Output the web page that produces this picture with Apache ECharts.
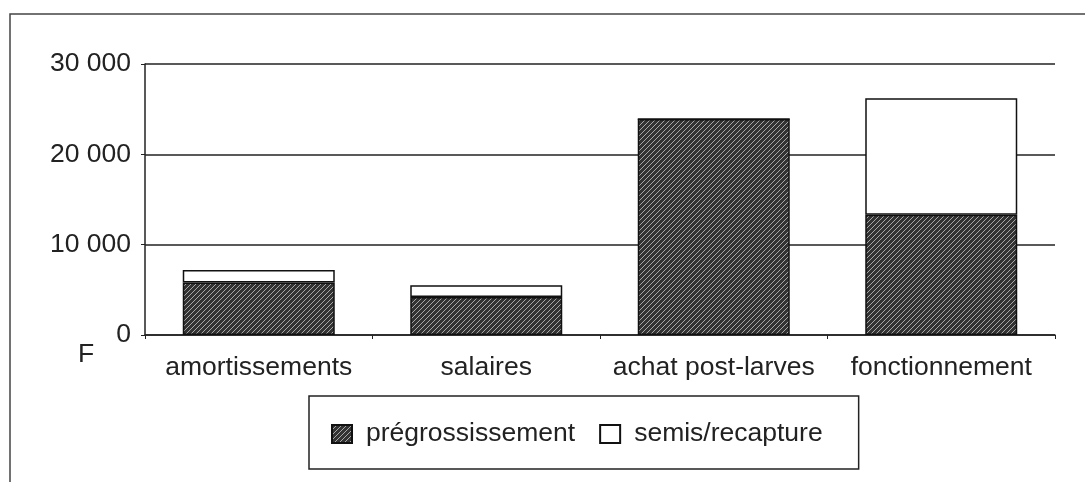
<!DOCTYPE html>
<html>
<head>
<meta charset="utf-8">
<script src="https://cdn.jsdelivr.net/npm/echarts@6/dist/echarts.min.js"></script>
<style>
  html, body { margin: 0; padding: 0; background: #fff; }
  #chart { width: 1085px; height: 482px; }
</style>
</head>
<body>
<div id="chart"></div>
<script>
// data
var categories = ["amortissements", "salaires", "achat post-larves", "fonctionnement"];
var pregrossissement = [5800, 4200, 23900, 13300];
var semisRecapture = [1400, 1300, 0, 12900];
var yTicks = [0, 10000, 20000, 30000];

// hatched fill like the printed chart
function makeHatch() {
  var c = document.createElement("canvas");
  c.width = 5;
  c.height = 5;
  var ctx = c.getContext("2d");
  ctx.fillStyle = "#333";
  ctx.fillRect(0, 0, 5, 5);
  ctx.strokeStyle = "#a8a8a8";
  ctx.lineWidth = 1;
  ctx.beginPath();
  ctx.moveTo(0, 5); ctx.lineTo(5, 0);
  ctx.moveTo(-1, 1); ctx.lineTo(1, -1);
  ctx.moveTo(4, 6); ctx.lineTo(6, 4);
  ctx.stroke();
  return c;
}
var hatch = makeHatch();

var font = "Liberation Sans, Arial, sans-serif";
var fs = 26.5;
var myChart = echarts.init(document.getElementById("chart"));
myChart.setOption({
  animation: false,
  backgroundColor: "#fff",
  textStyle: { fontFamily: font },
  grid: { left: 145, right: 30, top: 64, bottom: 147 },
  legend: {
    left: 309,
    top: 396,
    padding: [21, 36, 18, 22],
    borderColor: "#222",
    borderWidth: 1.5,
    itemWidth: 20,
    itemHeight: 18,
    itemGap: 24,
    icon: "rect",
    textStyle: { fontSize: fs, lineHeight: 30, color: "#222", fontFamily: font, padding: [4, 0, 0, 9] },
    data: ["prégrossissement", "semis/recapture"]
  },
  xAxis: {
    type: "category",
    data: categories,
    axisLine: { lineStyle: { color: "#222", width: 1.5 } },
    axisTick: { show: true, length: 4, lineStyle: { color: "#222" } },
    axisLabel: { fontSize: fs, color: "#222", margin: 19, interval: 0 }
  },
  yAxis: {
    type: "value",
    min: yTicks[0],
    max: yTicks[yTicks.length - 1],
    interval: 10000,
    axisLine: { show: true, lineStyle: { color: "#222", width: 1.5 } },
    axisTick: { show: true, length: 4, lineStyle: { color: "#222" } },
    splitLine: { lineStyle: { color: "#222", width: 1.5 } },
    axisLabel: {
      fontSize: fs,
      color: "#222",
      margin: 14,
      formatter: function (v) {
        return v === 0 ? "0" : String(v).replace(/\B(?=(\d{3})+(?!\d))/g, " ");
      }
    }
  },
  graphic: [
    {
      type: "polyline",
      shape: { points: [[10, 482], [10, 14], [1085, 14]] },
      style: { stroke: "#444", lineWidth: 1.5, fill: null }
    },
    {
      type: "text",
      left: 78,
      top: 341,
      style: { text: "F", fontSize: fs, fill: "#222", fontFamily: font }
    }
  ],
  series: [
    {
      name: "prégrossissement",
      type: "bar",
      stack: "total",
      barWidth: 152,
      data: pregrossissement,
      itemStyle: {
        color: { image: hatch, repeat: "repeat" },
        borderColor: "#111",
        borderWidth: 1.5
      }
    },
    {
      name: "semis/recapture",
      type: "bar",
      stack: "total",
      barWidth: 152,
      data: semisRecapture,
      itemStyle: { color: "#fff", borderColor: "#111", borderWidth: 1.5 }
    }
  ]
});
</script>
</body>
</html>
